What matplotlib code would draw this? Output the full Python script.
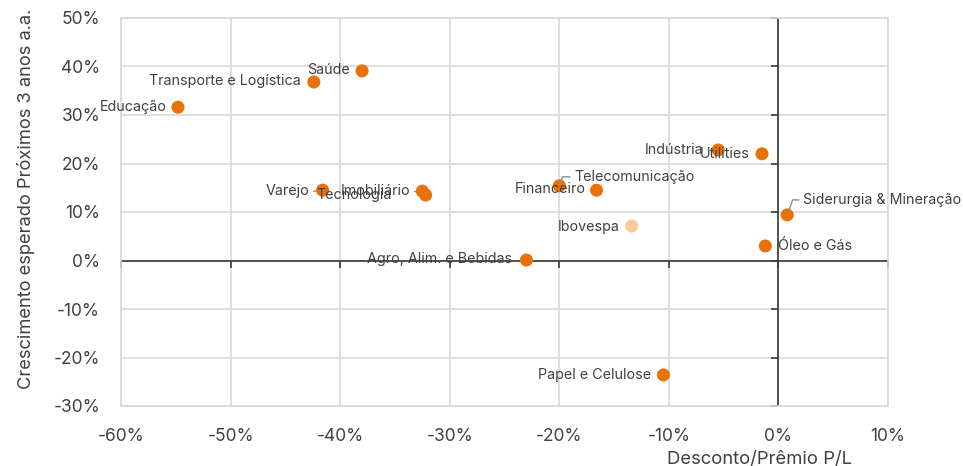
import matplotlib.pyplot as plt
from matplotlib.ticker import FuncFormatter

plt.rcParams["font.family"] = ["Inter", "DejaVu Sans"]

# dados (em %)
setores = ["Educação", "Transporte e Logística", "Saúde", "Varejo", "Imobiliário",
           "Tecnologia", "Agro, Alim. e Bebidas", "Telecomunicação", "Financeiro",
           "Ibovespa", "Papel e Celulose", "Indústria", "Utilities",
           "Siderurgia & Mineração", "Óleo e Gás"]
desconto = [-54.8, -42.4, -38.0, -41.6, -32.5, -32.2, -23.0, -20.0, -16.6,
            -13.4, -10.5, -5.5, -1.5, 0.8, -1.2]
crescimento = [31.6, 36.8, 39.1, 14.5, 14.3, 13.5, 0.1, 15.4, 14.5,
               7.1, -23.6, 22.8, 22.0, 9.4, 3.0]

xticks = [-60, -50, -40, -30, -20, -10, 0, 10]
yticks = [-30, -20, -10, 0, 10, 20, 30, 40, 50]

# posicao dos rotulos: (dx px, dy px, alinhamento, linha guia)
rotulos = {
    "Educação": (-11, 0, "right", None),
    "Transporte e Logística": (-13, -1, "right", None),
    "Saúde": (-12, -1, "right", None),
    "Varejo": (-13, 1, "right", "reta"),
    "Imobiliário": (-12, 0, "right", "reta"),
    "Tecnologia": (-34, 0, "right", None),
    "Agro, Alim. e Bebidas": (-14, -1, "right", None),
    "Telecomunicação": (15, -9, "left", "angulo"),
    "Financeiro": (-11, -1, "right", None),
    "Ibovespa": (-12, 1, "right", None),
    "Papel e Celulose": (-12, 0, "right", None),
    "Indústria": (-15, 0, "right", None),
    "Utilities": (-12, 0, "right", None),
    "Siderurgia & Mineração": (16, -15, "left", "angulo"),
    "Óleo e Gás": (13, 0, "left", None),
}

laranja = "#E8710A"
laranja_claro = "#FBCB96"
texto = "#404040"
grade = "#D9D9D9"

fig = plt.figure(figsize=(9.63, 4.66), dpi=100)
ax = fig.add_axes([121 / 963, 1 - 406 / 466, 767 / 963, 388 / 466])

cores = [laranja_claro if s == "Ibovespa" else laranja for s in setores]
ax.scatter(desconto, crescimento, s=88, c=cores, zorder=4, linewidths=0)

for s, x, y in zip(setores, desconto, crescimento):
    dx, dy, ha, guia = rotulos[s]
    props = None
    if guia == "reta":
        props = dict(arrowstyle="-", color="#8C8C8C", lw=1,
                     shrinkA=1, shrinkB=5, relpos=(1, 0.45))
    elif guia == "angulo":
        props = dict(arrowstyle="-", color="#8C8C8C", lw=1, shrinkA=1, shrinkB=2,
                     relpos=(0, 0.5), connectionstyle="angle,angleA=0,angleB=70,rad=0")
    ax.annotate(s, (x, y), xytext=(dx * 0.72, -dy * 0.72), textcoords="offset points",
                ha=ha, va="center", fontsize=10.3, color=texto, zorder=5,
                arrowprops=props)

ax.set_xlim(-60, 10)
ax.set_ylim(-30, 50)
ax.set_xticks(xticks)
ax.set_yticks(yticks)
pct = FuncFormatter(lambda v, p: f"{v:.0f}%")
ax.xaxis.set_major_formatter(pct)
ax.yaxis.set_major_formatter(pct)
ax.tick_params(length=0, labelsize=12.5, labelcolor=texto)
ax.tick_params(axis="x", pad=16)
ax.tick_params(axis="y", pad=15)
ax.grid(True, color=grade, lw=1.2, zorder=0)
for sp in ax.spines.values():
    sp.set_color(grade)
    sp.set_linewidth(1.2)

# eixos cruzando em zero
ax.axhline(0, color="#3A3A3A", lw=1.2, zorder=2)
ax.axvline(0, color="#3A3A3A", lw=1.2, zorder=2)
ax.plot(xticks, [0] * len(xticks), ls="none", marker=3, ms=5, mew=1.2,
        color="#3A3A3A", zorder=2, clip_on=False)
ax.plot([0] * len(yticks), yticks, ls="none", marker=0, ms=5, mew=1.2,
        color="#3A3A3A", zorder=2, clip_on=False)

ax.set_xlabel("Desconto/Prêmio P/L", fontsize=13.3, color=texto)
ax.xaxis.set_label_coords(0.833, -0.115)
ax.set_ylabel("Crescimento esperado Próximos 3 anos a.a.", fontsize=13.2, color=texto)
ax.yaxis.set_label_coords(-0.112, 0.535)

fig.savefig("out.png", dpi=100)
